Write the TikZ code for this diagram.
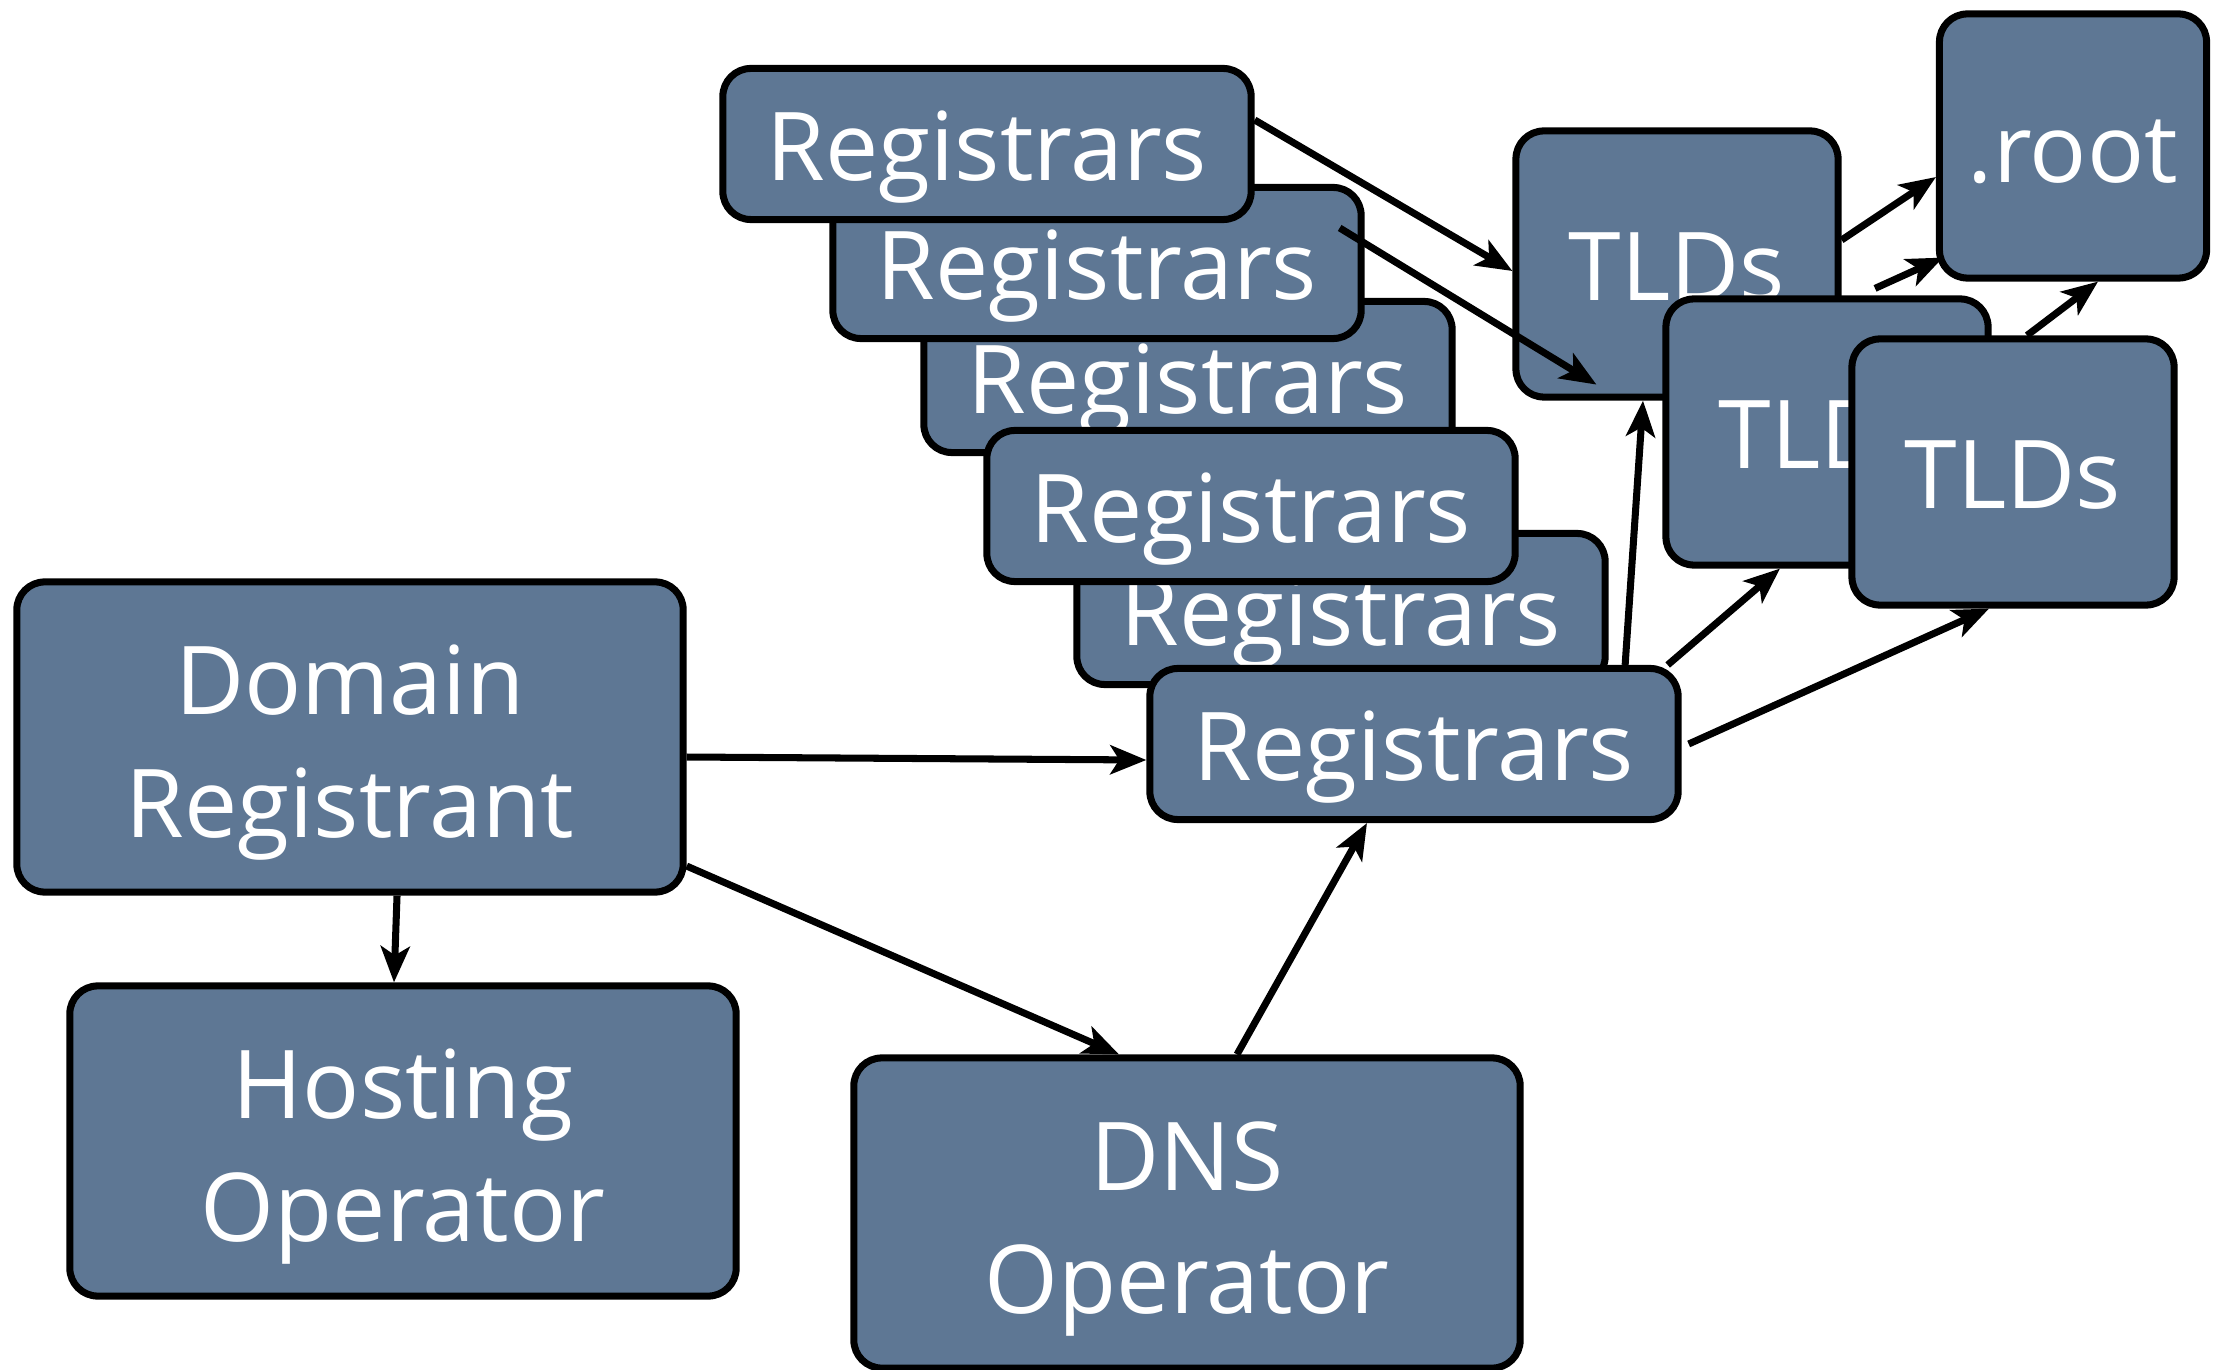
\documentclass[tikz,border=0pt]{standalone}
\usepackage{fontspec}
\setmainfont{Open Sans}
\usepackage{tikz}
\usetikzlibrary{positioning,arrows.meta}
\definecolor{slate}{RGB}{94,119,148}

\begin{document}
\begin{tikzpicture}[
        x=0.01cm, y=-0.01cm,
        box/.style={draw, line width=2pt, fill=slate, rounded corners=0.28cm,
            text=white, align=center, inner sep=0pt,
            font=\fontsize{27}{35}\selectfont, text height=28pt, text depth=7pt},
        regbox/.style={box, minimum width=5.28cm, minimum height=1.51cm},
        tldbox/.style={box, minimum width=3.22cm, minimum height=2.66cm},
        bigbox/.style={box, minimum width=6.66cm, minimum height=3.1cm, text height=63pt, text depth=6pt},
        conn/.style={draw, line width=2pt, -{Stealth[length=0.36cm, width=0.29cm, inset=0.09cm]}}
    ]
        \useasboundingbox (0,0) rectangle (2215,1370);

        % Nodes
        \node[bigbox] (dom) at (350,737) {Domain\\Registrant};
        \node[bigbox] (host) at (403,1141) {Hosting\\Operator};
        \node[bigbox] (dns) at (1187,1213) {DNS\\Operator};

        \node[regbox] (reg5) at (1341,609) {Registrars};
        \node[regbox] (reg3) at (1188,377) {Registrars};
        \node[regbox] (reg4) at (1251,506) {Registrars};
        \node[regbox] (reg2) at (1097,263) {Registrars};
        \node[regbox] (reg1) at (987,144) {Registrars};
        \node[regbox] (reg) at (1414,744) {Registrars};

        \node[tldbox] (tld1) at (1677,264) {TLDs};
        \node[tldbox] (tld2) at (1827,432) {TLDs};
        \node[tldbox] (tld3) at (2013,472) {TLDs};
        \node[box, minimum width=2.67cm, minimum height=2.64cm] (root) at (2073,146) {.root};

        % Edges
        \draw[conn] ([yshift=-0.2cm]dom.east) -- ([yshift=-0.16cm]reg.west);
        \draw[conn] ([yshift=-1.29cm]dom.east) -- ([xshift=-0.68cm]dns.north);
        \draw[conn] ([xshift=0.47cm]dom.south) -- ([xshift=-0.09cm]host.north);
        \draw[conn] ([xshift=0.5cm]dns.north) -- ([xshift=-0.47cm]reg.south);
        \draw[conn] ([xshift=2.11cm]reg.north) -- ([xshift=-0.34cm]tld1.south);
        \draw[conn] ([xshift=-0.14cm]reg.north east) -- ([xshift=-0.47cm]tld2.south);
        \draw[conn] ([xshift=0.07cm]reg.east) -- ([xshift=-0.24cm]tld3.south);
        \draw[conn] ([yshift=0.24cm]reg1.east) -- ([yshift=-0.07cm]tld1.west);
        \draw[conn] ([xshift=-0.25cm,yshift=-0.44cm]reg2.north east) -- ([xshift=0.84cm,yshift=0.16cm]tld1.south west);
        \draw[conn] ([yshift=0.24cm]tld1.east) -- ([yshift=-0.31cm]root.west);
        \draw[conn] ([xshift=0.48cm,yshift=0.07cm]tld2.north) -- ([xshift=0.07cm,yshift=0.24cm]root.south west);
        \draw[conn] ([xshift=0.14cm]tld3.north) -- ([xshift=0.25cm]root.south);
    \end{tikzpicture}
\end{document}
